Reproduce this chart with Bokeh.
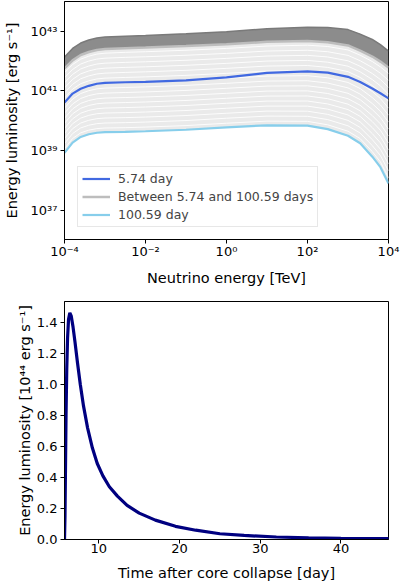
import numpy as np
from bokeh.plotting import figure
from bokeh.layouts import column
from bokeh.models import Range1d, FixedTicker, Legend, LegendItem, PrintfTickFormatter
from bokeh.embed import file_html
from bokeh.resources import INLINE

# ---------------- data: energy spectra (log10 values) -------------
log_energy = [-4.0, -3.8, -3.6, -3.4, -3.2, -3.0, -2.5, -2.0, -1.0, 0.0, 1.0, 2.0, 2.5, 3.0, 3.3, 3.6, 3.8, 4.0]
log_lum_day_5_74 = [40.61, 40.91, 41.07, 41.17, 41.24, 41.27, 41.29, 41.30, 41.35, 41.45, 41.60, 41.65, 41.61, 41.47, 41.30, 41.08, 40.92, 40.75]
log_lum_day_100_59 = [38.93, 39.27, 39.46, 39.55, 39.60, 39.62, 39.63, 39.65, 39.70, 39.78, 39.85, 39.84, 39.72, 39.50, 39.25, 38.80, 38.45, 37.90]
# envelope of the many intermediate-day spectra (dense, dark band near the peak days)
log_lum_between_top = [42.13, 42.42, 42.60, 42.70, 42.77, 42.80, 42.83, 42.85, 42.91, 42.98, 43.08, 43.13, 43.12, 43.05, 42.90, 42.72, 42.55, 42.33]
log_lum_between_dense_low = [41.75, 42.02, 42.20, 42.30, 42.37, 42.40, 42.43, 42.45, 42.50, 42.56, 42.64, 42.67, 42.63, 42.52, 42.35, 42.15, 41.98, 41.78]
# relative positions of visible gaps between the faint intermediate-day lines
between_gap_positions = [0.05, 0.11, 0.17, 0.23, 0.29, 0.35, 0.41, 0.47, 0.53, 0.59, 0.65, 0.71, 0.77, 0.83, 0.89, 0.95]

x_tick_exps = [-4, -2, 0, 2, 4]
x_tick_labels = ["10⁻⁴", "10⁻²", "10⁰", "10²", "10⁴"]
y_tick_exps = [37, 39, 41, 43]
y_tick_labels = ["10³⁷", "10³⁹", "10⁴¹", "10⁴³"]

# ---------------- data: light curve ------------------------------------------------------
days = [5.74, 5.80, 5.86, 5.93, 6.02, 6.12, 6.24, 6.40, 6.58, 6.80, 7.05, 7.35, 7.7, 8.1, 8.6, 9.2, 9.8,
        10.5, 11.3, 12.3, 13.5, 15.0, 17.0, 19.5, 22.0, 25.0, 28.0, 32.0, 36.0, 40.0, 44.0, 46.0]
lum_1e44 = [0.0, 0.15, 0.45, 0.80, 1.10, 1.30, 1.42, 1.462, 1.44, 1.37, 1.27, 1.14, 1.00, 0.86, 0.72, 0.59, 0.49,
            0.41, 0.34, 0.28, 0.22, 0.17, 0.125, 0.085, 0.06, 0.037, 0.026, 0.016, 0.011, 0.008, 0.006, 0.005]
time_ticks = [10, 20, 30, 40]
lum_ticks = [0.0, 0.2, 0.4, 0.6, 0.8, 1.0, 1.2, 1.4]

FONT = "DejaVu Sans"


def style_axes(p, tick_size, label_size):
    for ax in (p.xaxis[0], p.yaxis[0]):
        ax.major_tick_out = 4
        ax.major_tick_in = 0
        ax.minor_tick_line_color = None
        ax.axis_line_color = "black"
        ax.major_tick_line_color = "black"
        ax.major_label_text_font = FONT
        ax.major_label_text_font_size = tick_size
        ax.major_label_text_color = "black"
        ax.axis_label_text_font = FONT
        ax.axis_label_text_font_size = label_size
        ax.axis_label_text_font_style = "normal"
        ax.axis_label_text_color = "black"
        ax.major_label_standoff = 3
    p.xaxis[0].major_label_standoff = 0
    p.xgrid.visible = False
    p.ygrid.visible = False
    p.outline_line_color = "black"
    p.outline_line_width = 1
    p.background_fill_color = "white"
    p.border_fill_color = "white"


# ---------------- top: spectra ------------------------------------------------------------
E = 10 ** np.array(log_energy)
L_first = 10 ** np.array(log_lum_day_5_74)
L_last = 10 ** np.array(log_lum_day_100_59)
top_a = np.array(log_lum_between_top)
low_a = np.array(log_lum_between_dense_low)
last_a = np.array(log_lum_day_100_59)

p1 = figure(width=400, height=290, x_axis_type="log", y_axis_type="log",
            x_range=Range1d(1e-4, 1e4), y_range=Range1d(10 ** 36.03, 10 ** 43.99),
            output_backend="svg", toolbar_location=None, title=None,
            min_border_left=62, min_border_right=12, min_border_top=1, min_border_bottom=51)

p1.varea(x=E, y1=L_last, y2=10 ** low_a, fill_color="#eaeaea")
p1.varea(x=E, y1=10 ** low_a, y2=10 ** top_a, fill_color="#8c8c8c")
gap_xs, gap_ys = [], []
for w in between_gap_positions:
    gap_xs.append(E)
    gap_ys.append(10 ** ((1 - w) * low_a + w * last_a))
p1.multi_line(gap_xs, gap_ys, line_color="white", line_width=1, line_alpha=0.85)
r_between = p1.line(E, 10 ** low_a, line_color="#bdbdbd", line_width=2.5)
p1.line(E, 10 ** top_a, line_color="#7a7a7a", line_width=1.5)

r_first = p1.line(E, L_first, line_color="royalblue", line_width=2.2)
r_last = p1.line(E, L_last, line_color="skyblue", line_width=2.2)

p1.xaxis.ticker = FixedTicker(ticks=[10.0 ** e for e in x_tick_exps])
p1.xaxis.major_label_overrides = {10.0 ** e: lab for e, lab in zip(x_tick_exps, x_tick_labels)}
p1.yaxis.ticker = FixedTicker(ticks=[10.0 ** e for e in y_tick_exps])
p1.yaxis.major_label_overrides = {10.0 ** e: lab for e, lab in zip(y_tick_exps, y_tick_labels)}
p1.xaxis.axis_label = "Neutrino energy [TeV]"
p1.yaxis.axis_label = "Energy luminosity [erg s⁻¹]"
style_axes(p1, "13px", "14.5px")
p1.xaxis.axis_label_standoff = 8
p1.yaxis.axis_label_standoff = 8

legend = Legend(items=[
    LegendItem(label="5.74 day", renderers=[r_first]),
    LegendItem(label="Between 5.74 and 100.59 days", renderers=[r_between]),
    LegendItem(label="100.59 day", renderers=[r_last]),
], location=(13, 12))
legend.label_text_font = FONT
legend.label_text_font_size = "12.5px"
legend.glyph_width = 28
legend.glyph_height = 15
legend.label_height = 15
legend.spacing = 3
legend.padding = 4
legend.label_standoff = 8
legend.margin = 0
legend.border_line_color = "#d0d0d0"
legend.border_line_width = 1
legend.background_fill_alpha = 0.85
p1.add_layout(legend)

# ---------------- bottom: light curve -----------------------------------------------------
p2 = figure(width=400, height=294, x_range=Range1d(5.74, 45.9), y_range=Range1d(0, 1.535),
            output_backend="svg", toolbar_location=None, title=None,
            min_border_left=63, min_border_right=9, min_border_top=11, min_border_bottom=45)
p2.line(days, lum_1e44, line_color="#000080", line_width=3.2)
p2.xaxis.ticker = FixedTicker(ticks=time_ticks)
p2.yaxis.ticker = FixedTicker(ticks=lum_ticks)
p2.yaxis.formatter = PrintfTickFormatter(format="%.1f")
p2.xaxis.axis_label = "Time after core collapse [day]"
p2.yaxis.axis_label = "Energy luminosity [10⁴⁴ erg s⁻¹]"
style_axes(p2, "13px", "14.5px")
p2.xaxis.axis_label_standoff = 9
p2.yaxis.axis_label_standoff = 1

layout = column(p1, p2)
open("out.html", "w").write(file_html(layout, INLINE))
